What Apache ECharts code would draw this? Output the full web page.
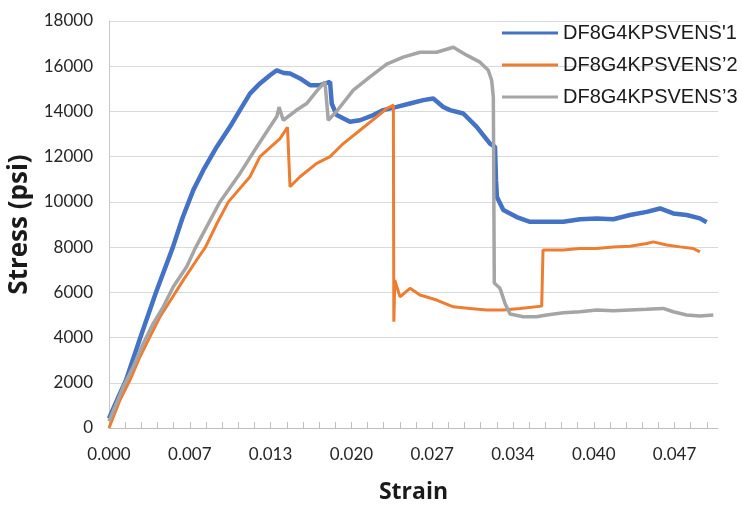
<!DOCTYPE html>
<html>
<head>
<meta charset="utf-8">
<script src="https://cdn.jsdelivr.net/npm/echarts@6/dist/echarts.min.js"></script>
<style>
  html, body { margin: 0; padding: 0; background: #ffffff; }
  #chart { width: 742px; height: 508px; }
</style>
</head>
<body>
<div id="chart"></div>
<script>
// Stress–strain curves for three DF8G4KPSVENS specimens
const seriesNames = ["DF8G4KPSVENS'1", "DF8G4KPSVENS\u20192", "DF8G4KPSVENS\u20193"];

// Labels shown under every fifth strain tick
const xTickLabels = ['0.000', '0.007', '0.013', '0.020', '0.027', '0.034', '0.040', '0.047'];

// Specimen 1: [strain, stress psi]
const specimen1 = [
  [0.00000, 420], [0.00080, 1400], [0.00140, 2100], [0.00260, 4000], [0.00390, 6000],
  [0.00530, 8000], [0.00610, 9300], [0.00699, 10520],
  [0.00782, 11400], [0.00893, 12430], [0.01003, 13320], [0.01086, 14060], [0.01169, 14790],
  [0.01252, 15240], [0.01335, 15600], [0.01391, 15820], [0.01450, 15700], [0.01501, 15680],
  [0.01584, 15460], [0.01667, 15160], [0.01750, 15160], [0.01833, 15310], [0.01847, 14350],
  [0.01888, 13840], [0.01998, 13540], [0.02081, 13610], [0.02192, 13840], [0.02275, 14060],
  [0.02386, 14200], [0.02496, 14350], [0.02606, 14500], [0.02689, 14570], [0.02772, 14200],
  [0.02828, 14060], [0.02938, 13910], [0.03049, 13320], [0.03159, 12580], [0.03201, 12430],
  [0.03209, 10960], [0.03217, 10220], [0.03270, 9640], [0.03325, 9490], [0.03381, 9330],
  [0.03491, 9120], [0.03629, 9120], [0.03767, 9120], [0.03906, 9230], [0.04044, 9270],
  [0.04182, 9230], [0.04320, 9420], [0.04459, 9560], [0.04569, 9710], [0.04679, 9490],
  [0.04790, 9420], [0.04900, 9270], [0.04956, 9100]
];

// Specimen 2: [strain, stress psi]
const specimen2 = [
  [0.00000, 0], [0.00091, 1240], [0.00174, 2120], [0.00257, 3150], [0.00340, 4040],
  [0.00423, 4920], [0.00520, 5730], [0.00616, 6540], [0.00727, 7430], [0.00800, 8000],
  [0.00900, 9100], [0.00990, 10000], [0.01169, 11110], [0.01252, 12000], [0.01418, 12800],
  [0.01480, 13300], [0.01501, 10670], [0.01584, 11110], [0.01722, 11700], [0.01833, 12000],
  [0.01943, 12580], [0.02081, 13170], [0.02220, 13760], [0.02303, 14130], [0.02358, 14280],
  [0.02362, 4700], [0.02370, 6540], [0.02413, 5800], [0.02496, 6180], [0.02579, 5880],
  [0.02717, 5660], [0.02855, 5360], [0.02993, 5290], [0.03132, 5220], [0.03270, 5220],
  [0.03408, 5290], [0.03588, 5390], [0.03599, 7870], [0.03767, 7870], [0.03906, 7940],
  [0.04044, 7940], [0.04182, 8010], [0.04320, 8040], [0.04459, 8160], [0.04513, 8230],
  [0.04625, 8090], [0.04735, 8010], [0.04845, 7940], [0.04900, 7790]
];

// Specimen 3: [strain, stress psi]
const specimen3 = [
  [0.00000, 300], [0.00119, 1830], [0.00201, 2710], [0.00284, 3740], [0.00367, 4630],
  [0.00450, 5360], [0.00533, 6250], [0.00644, 7130], [0.00720, 8000], [0.00920, 10000],
  [0.01086, 11260], [0.01225, 12430], [0.01335, 13320], [0.01393, 13790],
  [0.01410, 14190], [0.01445, 13610], [0.01556, 14060], [0.01639, 14350], [0.01722, 14900],
  [0.01791, 15310], [0.01818, 13610], [0.01888, 14010], [0.02026, 14940], [0.02164, 15530],
  [0.02303, 16090], [0.02440, 16400], [0.02579, 16620], [0.02717, 16620], [0.02855, 16840],
  [0.02966, 16490], [0.03076, 16180], [0.03145, 15820], [0.03173, 15380], [0.03187, 14640],
  [0.03195, 6410], [0.03242, 6180], [0.03284, 5510], [0.03325, 5040], [0.03435, 4920],
  [0.03546, 4920], [0.03629, 5000], [0.03767, 5100], [0.03906, 5140], [0.04044, 5220],
  [0.04182, 5190], [0.04320, 5220], [0.04459, 5250], [0.04596, 5290], [0.04679, 5140],
  [0.04790, 5000], [0.04900, 4950], [0.05011, 5000]
];

const colors = ['#4472C4', '#ED7D31', '#A5A5A5'];
const minorStep = 0.00134; // one fifth of the labelled strain step

const chart = echarts.init(document.getElementById('chart'), null, { renderer: 'canvas' });

chart.setOption({
  animation: false,
  backgroundColor: '#ffffff',
  color: colors,
  grid: { left: 109, right: 24, top: 21, bottom: 80, outerBoundsMode: 'none' },
  legend: {
    orient: 'vertical',
    left: 497,
    top: 18,
    itemWidth: 56,
    itemHeight: 14,
    itemGap: 12,
    icon: 'path://M0,6 L56,6 L56,9 L0,9 Z',
    data: seriesNames,
    textStyle: {
      fontFamily: '"Liberation Sans", Arial, sans-serif',
      fontSize: 20,
      color: '#1a1a1a',
      padding: [0, 0, 0, 0]
    }
  },
  xAxis: {
    type: 'value',
    min: 0,
    max: 0.0505,
    interval: minorStep,
    name: 'Strain',
    nameLocation: 'middle',
    nameGap: 53,
    nameTextStyle: {
      fontFamily: '"Open Sans", sans-serif',
      fontSize: 23,
      fontWeight: 'bold',
      color: '#1a1a1a'
    },
    axisLine: { show: true, lineStyle: { color: '#bfbfbf', width: 1 } },
    axisTick: { show: true, inside: true, length: 6, lineStyle: { color: '#bfbfbf' } },
    splitLine: { show: false },
    axisLabel: {
      margin: 18,
      fontFamily: 'Lato, sans-serif',
      fontSize: 17,
      color: '#262626',
      showMaxLabel: false,
      formatter: function (v) {
        const i = Math.round(v / minorStep);
        if (i % 5 !== 0) return '';
        const lbl = xTickLabels[i / 5];
        return lbl === undefined ? '' : lbl;
      }
    }
  },
  yAxis: {
    type: 'value',
    min: 0,
    max: 18000,
    interval: 2000,
    name: 'Stress (psi)',
    nameLocation: 'middle',
    nameGap: 58,
    nameTextStyle: {
      fontFamily: '"Open Sans", sans-serif',
      fontSize: 26,
      fontWeight: 'bold',
      color: '#1a1a1a'
    },
    axisLine: { show: true, lineStyle: { color: '#c8c8c8', width: 1 } },
    axisTick: { show: false },
    splitLine: { show: true, lineStyle: { color: '#d9d9d9', width: 1.2 } },
    axisLabel: {
      margin: 16,
      fontFamily: 'Lato, sans-serif',
      fontSize: 17,
      color: '#262626',
      formatter: function (v) { return String(v); }
    }
  },
  series: [
    {
      name: seriesNames[0], type: 'line', data: specimen1, showSymbol: false,
      lineStyle: { color: colors[0], width: 4.5 }, itemStyle: { color: colors[0] }
    },
    {
      name: seriesNames[1], type: 'line', data: specimen2, showSymbol: false,
      lineStyle: { color: colors[1], width: 3 }, itemStyle: { color: colors[1] }
    },
    {
      name: seriesNames[2], type: 'line', data: specimen3, showSymbol: false,
      lineStyle: { color: colors[2], width: 3.5 }, itemStyle: { color: colors[2] }
    }
  ]
});
</script>
</body>
</html>
